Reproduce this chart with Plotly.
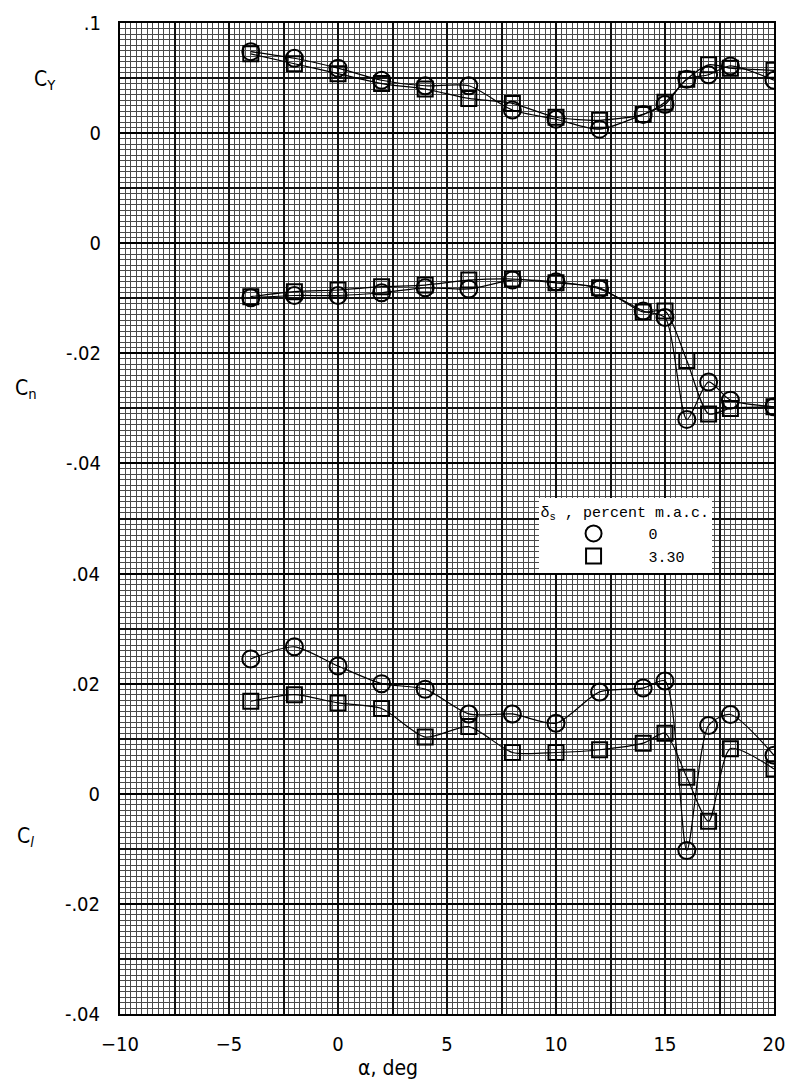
import plotly.graph_objects as go

# ---------------- data ----------------
alpha = [-4, -2, 0, 2, 4, 6, 8, 10, 12, 14, 15, 16, 17, 18, 20]

cy_0 = [0.074, 0.068, 0.059, 0.048, 0.043, 0.043, 0.021, 0.0126, 0.0036, 0.017, 0.026, 0.049, 0.053, 0.061, 0.048]
cy_330 = [0.072, 0.063, 0.054, 0.045, 0.040, 0.0315, 0.027, 0.0144, 0.0117, 0.017, 0.028, 0.049, 0.062, 0.059, 0.057]

cn_0 = [-0.0099, -0.0095, -0.0095, -0.0090, -0.0081, -0.0083, -0.0067, -0.0070, -0.0083, -0.0123, -0.0135, -0.0320, -0.0252, -0.0285, -0.0297]
cn_330 = [-0.0097, -0.0088, -0.0085, -0.0079, -0.0076, -0.0067, -0.0065, -0.0072, -0.0081, -0.0125, -0.0123, -0.0213, -0.0310, -0.0300, -0.0297]

cl_0 = [0.0245, 0.0267, 0.0232, 0.0200, 0.0190, 0.0145, 0.0145, 0.0128, 0.0185, 0.0192, 0.0205, -0.0103, 0.0124, 0.0144, 0.0070]
cl_330 = [0.0168, 0.0180, 0.0165, 0.0155, 0.0103, 0.0122, 0.0075, 0.0075, 0.0080, 0.0092, 0.0110, 0.0030, -0.0050, 0.0082, 0.0045]

series_names = ["0", "3.30"]
x_ticks = [-10, -5, 0, 5, 10, 15, 20]
cy_ticks = [0.1, 0]
cy_text = [".1", "0"]
cn_ticks = [0, -0.02, -0.04]
cn_text = ["0", "-.02", "-.04"]
cl_ticks = [0.04, 0.02, 0, -0.02, -0.04]
cl_text = [".04", ".02", "0", "-.02", "-.04"]

# ---------------- style ----------------
FAM = "Liberation Sans Narrow, DejaVu Sans Condensed, Liberation Sans, sans-serif"
TICKFONT = dict(family=FAM, size=20, color="black")
LABELFONT = dict(family=FAM, size=21, color="black")
MONO = "Liberation Mono, DejaVu Sans Mono, monospace"
FINE = "#4a4a4a"
MID = "#111111"
symbols = ["circle-open", "square-open"]
msize = [17, 15]
line_style = dict(color="black", width=1.2, shape="spline", smoothing=0.7)

fig = go.Figure()

def add_series(vals, si, line_axes, marker_axes, legend):
    fig.add_trace(go.Scatter(
        x=alpha, y=vals, mode="lines", xaxis=line_axes[0], yaxis=line_axes[1],
        line=line_style, showlegend=False, hoverinfo="skip"))
    fig.add_trace(go.Scatter(
        x=alpha, y=vals, mode="markers", xaxis=marker_axes[0], yaxis=marker_axes[1],
        name=series_names[si], legendgroup=series_names[si], showlegend=legend,
        marker=dict(symbol=symbols[si], size=msize[si], color="black",
                    line=dict(width=2, color="black"))))

# C_Y on y3 (labels), C_n curves on y4 (labels) and markers on y6 (same scale, mid grid),
# C_l curves on base y and markers on x2/y2 (same scale, heavy/mid grid)
for si, vals in enumerate([cy_0, cy_330]):
    add_series(vals, si, ("x", "y3"), ("x", "y3"), True)
for si, vals in enumerate([cn_0, cn_330]):
    add_series(vals, si, ("x", "y4"), ("x", "y6"), False)
for si, vals in enumerate([cl_0, cl_330]):
    add_series(vals, si, ("x", "y"), ("x2", "y2"), False)

fig.update_layout(
    width=796, height=1091,
    margin=dict(l=120, r=11, t=14, b=77),
    paper_bgcolor="white", plot_bgcolor="white",
    xaxis=dict(range=[-10, 20], tickvals=x_ticks, ticks="outside", ticklen=0,
               tickfont=TICKFONT, ticklabelstandoff=11,
               showgrid=True, gridcolor="black", gridwidth=2,
               minor=dict(dtick=0.25, showgrid=True, gridcolor=FINE, gridwidth=1),
               showline=True, linecolor="black", linewidth=2, mirror=True,
               zeroline=False),
    xaxis2=dict(range=[-10, 20], overlaying="x", anchor="y", dtick=2.5,
                showticklabels=False, showgrid=True, gridcolor=MID, gridwidth=1.5,
                zeroline=False),
    yaxis=dict(range=[-0.04, 0.14], tickvals=cl_ticks, ticktext=cl_text, tickfont=TICKFONT,
               ticks="outside", ticklen=0, ticklabelstandoff=14,
               showgrid=False,
               minor=dict(dtick=0.001, showgrid=True, gridcolor=FINE, gridwidth=1),
               showline=True, linecolor="black", linewidth=2, mirror=True,
               zeroline=False),
    yaxis2=dict(range=[-0.04, 0.14], overlaying="y", anchor="x", dtick=0.02,
                showticklabels=False, showgrid=True, gridcolor="black", gridwidth=2,
                zeroline=False),
    yaxis3=dict(range=[-0.8, 0.1], overlaying="y", side="left", anchor="x",
                tickvals=cy_ticks, ticktext=cy_text, tickfont=TICKFONT,
                ticks="outside", ticklen=0, ticklabelstandoff=14,
                showgrid=False, zeroline=False),
    yaxis4=dict(range=[-0.14, 0.04], overlaying="y", side="left", anchor="x",
                tickvals=cn_ticks, ticktext=cn_text, tickfont=TICKFONT,
                ticks="outside", ticklen=0, ticklabelstandoff=14,
                showgrid=False, zeroline=False),
    yaxis6=dict(range=[-0.14, 0.04], overlaying="y", anchor="x", dtick=0.01,
                showticklabels=False, showgrid=True, gridcolor=MID, gridwidth=1.5,
                zeroline=False),
    legend=dict(x=0.64, y=0.521, xanchor="left", yanchor="top",
                bgcolor="white", borderwidth=0, itemwidth=100,
                font=dict(family=MONO, size=15, color="black"),
                title=dict(text="δ<sub>s</sub> , percent m.a.c.",
                           font=dict(family=MONO, size=15, color="black")),
                tracegroupgap=0),
    showlegend=True,
)

fig.add_annotation(text="C<sub>Y</sub>", xref="paper", yref="paper", x=-0.135, y=0.942,
                   xanchor="left", yanchor="middle", showarrow=False, font=LABELFONT)
fig.add_annotation(text="C<sub>n</sub>", xref="paper", yref="paper", x=-0.163, y=0.631,
                   xanchor="left", yanchor="middle", showarrow=False, font=LABELFONT)
fig.add_annotation(text="C<sub><i>l</i></sub>", xref="paper", yref="paper", x=-0.161, y=0.179,
                   xanchor="left", yanchor="middle", showarrow=False, font=LABELFONT)
fig.add_annotation(text="α, deg", xref="paper", yref="paper", x=0.41, y=-0.054,
                   xanchor="center", yanchor="middle", showarrow=False, font=LABELFONT)

fig.write_html("out.html")
